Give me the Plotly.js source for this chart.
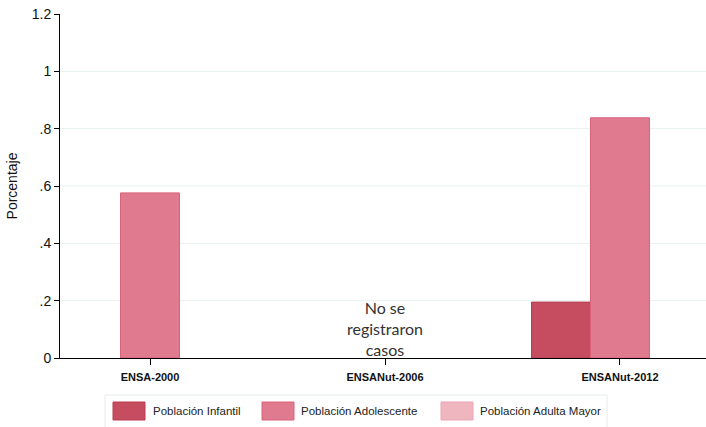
<!DOCTYPE html>
<html>
<head>
<meta charset="utf-8">
<script src="https://cdn.plot.ly/plotly-3.0.1.min.js"></script>
<style>html,body{margin:0;padding:0;background:#fff;}#chart{width:706px;height:427px;}</style>
</head>
<body>
<div id="chart"></div>
<script>
const categories = ["ENSA-2000", "ENSANut-2006", "ENSANut-2012"];
const seriesNames = ["Población Infantil", "Población Adolescente", "Población Adulta Mayor"];
const infantil = [null, null, 0.195];
const adolescente = [0.576, null, 0.838];
const adultaMayor = [null, null, null];
const yTickVals = [0, 0.2, 0.4, 0.6, 0.8, 1, 1.2];
const yTickText = ["0", ".2", ".4", ".6", ".8", "1", "1.2"];
const gridVals = [0.2, 0.4, 0.6, 0.8, 1];
const noteLines = ["No se", "registraron", "casos"];

const fills = ["#c64d60", "#e07a8f", "#f0b6c0"];
const lines = ["#b83c52", "#d9637a", "#eaa5b2"];
const seriesValues = [infantil, adolescente, adultaMayor];

const W = 706, H = 427, L = 60, R = 0, T = 14, B = 69;
const pw = W - L - R, ph = H - T - B;
const px = x => (x - L) / pw;
const py = y => (H - B - y) / ph;

const traces = seriesNames.map((n, i) => ({
  type: "bar", name: n, x: categories, y: seriesValues[i],
  marker: {color: fills[i], line: {color: lines[i], width: 1}},
  showlegend: false, hoverinfo: "skip"
}));

const shapes = gridVals.map(v => ({
  type: "line", xref: "paper", yref: "y", x0: 0, x1: 1, y0: v, y1: v,
  line: {color: "#e9eff1", width: 1}, layer: "below"
}));
shapes.push({type: "rect", xref: "paper", yref: "paper", x0: px(105), x1: px(607), y0: py(395), y1: py(440),
  line: {color: "#e6ecee", width: 1}, fillcolor: "rgba(0,0,0,0)"});
const swX = [113, 262, 441];
const txX = [151, 299, 478];
const annotations = [];
seriesNames.forEach((n, i) => {
  shapes.push({type: "rect", xref: "paper", yref: "paper", x0: px(swX[i]), x1: px(swX[i] + 32),
    y0: py(402), y1: py(420), fillcolor: fills[i], line: {color: lines[i], width: 1}});
  annotations.push({xref: "paper", yref: "paper", x: px(txX[i]), y: py(411), xanchor: "left", yanchor: "middle",
    text: n, showarrow: false, font: {family: "Liberation Sans, Arial, sans-serif", size: 11.5, color: "#222"}});
});
annotations.push({xref: "x", yref: "paper", x: categories[1], y: py(328), yanchor: "middle", xanchor: "center",
  text: noteLines.join("<br>"), showarrow: false, align: "center",
  font: {family: "Lato, sans-serif", size: 16, color: "#333"}});

const layout = {
  width: W, height: H,
  margin: {l: L, r: R, t: T, b: B, pad: 0},
  paper_bgcolor: "#fff", plot_bgcolor: "#fff",
  barmode: "group", bargap: 0.247, bargroupgap: 0,
  showlegend: false,
  xaxis: {
    type: "category", range: [-0.383, 2.366],
    showline: true, linecolor: "#000", linewidth: 1,
    ticks: "outside", ticklen: 6, tickcolor: "#000",
    showgrid: false, zeroline: false, ticklabelstandoff: 3,
    tickfont: {family: "Liberation Sans, Arial, sans-serif", size: 11, color: "#111", weight: "bold"}
  },
  yaxis: {
    range: [0, 1.2], tickvals: yTickVals, ticktext: yTickText,
    showline: true, linecolor: "#000", linewidth: 1,
    ticks: "outside", ticklen: 5, tickcolor: "#000",
    showgrid: false, zeroline: false,
    tickfont: {family: "Liberation Sans, Arial, sans-serif", size: 14, color: "#111"},
    title: {text: "Porcentaje", font: {family: "Liberation Sans, Arial, sans-serif", size: 14, color: "#111"}, standoff: 10}
  },
  shapes: shapes,
  annotations: annotations
};

Plotly.newPlot("chart", traces, layout, {displayModeBar: false, staticPlot: true});
</script>
</body>
</html>
